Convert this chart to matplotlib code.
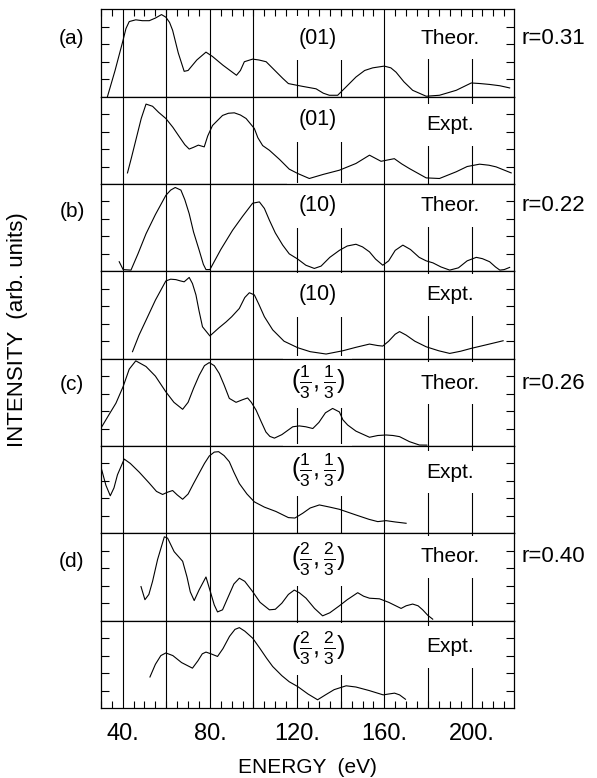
import matplotlib
matplotlib.use("Agg")
import matplotlib.pyplot as plt
from matplotlib.ticker import MultipleLocator, FixedLocator

plt.rcParams['font.family'] = ['Liberation Sans', 'DejaVu Sans']
plt.rcParams['mathtext.fontset'] = 'custom'
plt.rcParams['mathtext.rm'] = 'Liberation Sans'
plt.rcParams['mathtext.it'] = 'Liberation Sans:italic'
plt.rcParams['mathtext.bf'] = 'Liberation Sans:bold'

# (a) (01) beam
a_theor_e = [33, 36.5, 40, 41.5, 43, 46, 49, 52.2, 55, 57.8, 59.8, 61.5, 62.9, 65.5, 68.2, 70, 74, 78.2, 81.2, 86,
             92.2, 94, 95.8, 99.6, 102.5, 105.8, 109, 113.4, 116, 120, 122.5, 128.7, 132, 134.8, 138.6,
             142, 147, 151, 154.7, 160, 163, 165.4, 169, 173, 179.2, 185.3, 193, 199.9, 204, 208.3, 213, 217.5]
a_theor_i = [0, 0.3, 0.63, 0.78, 0.86, 0.88, 0.87, 0.87, 0.9, 0.94, 0.91, 0.85, 0.76, 0.5, 0.29, 0.3, 0.42, 0.51, 0.46, 0.36,
             0.245, 0.3, 0.40, 0.43, 0.42, 0.40, 0.32, 0.21, 0.15, 0.13, 0.118, 0.09, 0.04, 0.016, 0.016,
             0.1, 0.225, 0.3, 0.33, 0.35, 0.33, 0.28, 0.17, 0.073, 0.005, 0.016, 0.073, 0.157, 0.15, 0.14, 0.125, 0.10]
a_expt_e = [42.2, 44, 46, 48.5, 50.7, 53.7, 56.5, 59.8, 63, 66, 68.5, 70.5, 72.5, 74.7, 77.4, 79, 81.2, 85.8,
            88.5, 91.2, 94, 96.6, 100.4, 102, 104.2, 107.3, 112, 116.4, 120.3, 125.6, 132, 139.4, 147, 153.2,
            158.5, 164.6, 168, 171.5, 179.2, 185.3, 193, 198, 203.7, 208, 211.3, 218.2]
a_expt_i = [0.127, 0.3, 0.50, 0.75, 0.915, 0.89, 0.82, 0.75, 0.65, 0.54, 0.45, 0.40, 0.42, 0.445, 0.425, 0.55,
            0.67, 0.785, 0.81, 0.815, 0.79, 0.75, 0.635, 0.53, 0.44, 0.386, 0.28, 0.17, 0.12, 0.063, 0.11,
            0.158, 0.235, 0.33, 0.26, 0.29, 0.23, 0.177, 0.07, 0.063, 0.14, 0.2, 0.227, 0.215, 0.196, 0.127]

# (b) (10) beam
b_theor_e = [38.4, 40.2, 43.8, 47, 50.7, 55, 59.8, 62, 64.1, 66.7, 68.5, 70.5, 72.5, 75.1, 77, 78.2, 80, 85,
             90.4, 95, 99.6, 102.7, 105, 107.3, 110, 113.4, 116.4, 120.3, 124, 127.9, 131, 135, 139.4, 143,
             147, 150, 153.2, 156, 159.3, 162, 165, 168.5, 172, 176, 179.2, 182.3, 186, 190, 194, 198,
             202.2, 205, 208.3, 211, 213, 215, 217.5]
b_theor_i = [0.11, 0.02, 0.014, 0.2, 0.43, 0.65, 0.87, 0.93, 0.96, 0.93, 0.82, 0.66, 0.45, 0.24, 0.08, 0.02,
             0.02, 0.25, 0.47, 0.63, 0.78, 0.795, 0.72, 0.585, 0.44, 0.30, 0.2, 0.14, 0.07, 0.033, 0.06, 0.16,
             0.24, 0.29, 0.31, 0.28, 0.223, 0.14, 0.07, 0.12, 0.24, 0.30, 0.25, 0.16, 0.12, 0.097, 0.05, 0.014,
             0.04, 0.12, 0.16, 0.145, 0.11, 0.05, 0.014, 0.02, 0.045]
b_expt_e = [44.5, 47.5, 50.7, 55, 59.8, 62, 64.4, 66.5, 68.2, 70.5, 72, 73.6, 75, 76.6, 80, 84, 87.4, 90,
            93.5, 96, 98.1, 100.4, 102.5, 105, 108.8, 114, 120.3, 126, 133.3, 140.9, 147, 153.2, 157, 159.3,
            162, 165, 167, 170, 174, 179.2, 185, 190, 195, 199.9, 207, 214.5]
b_expt_i = [0.08, 0.27, 0.44, 0.67, 0.89, 0.91, 0.905, 0.89, 0.88, 0.93, 0.86, 0.73, 0.55, 0.365, 0.26, 0.35,
            0.42, 0.48, 0.575, 0.7, 0.755, 0.73, 0.62, 0.48, 0.33, 0.2, 0.125, 0.08, 0.053, 0.09, 0.13, 0.167,
            0.15, 0.144, 0.2, 0.28, 0.31, 0.27, 0.2, 0.136, 0.09, 0.06, 0.085, 0.118, 0.16, 0.205]

# (c) (1/3,1/3) beam
c_theor_e = [30.4, 33.5, 36.9, 40.2, 43, 46, 50.7, 55, 59.8, 63.5, 67.5, 70, 72.5, 75.1, 77.5, 79.7, 82, 84.3,
             86.5, 88.9, 92, 95, 97.3, 99, 101.2, 103.5, 105.7, 107.5, 109.6, 113, 118, 121, 124, 127.2, 130,
             133, 136.3, 139.4, 141, 143.2, 147, 153.2, 157, 160.8, 164, 167, 171.5, 176.1, 179.5]
c_theor_i = [0.22, 0.35, 0.49, 0.68, 0.88, 0.975, 0.91, 0.8, 0.62, 0.5, 0.42, 0.5, 0.66, 0.81, 0.92, 0.955,
             0.92, 0.83, 0.7, 0.545, 0.50, 0.53, 0.55, 0.5, 0.41, 0.28, 0.16, 0.11, 0.09, 0.13, 0.22, 0.23,
             0.22, 0.20, 0.27, 0.38, 0.43, 0.39, 0.3, 0.24, 0.17, 0.10, 0.12, 0.126, 0.12, 0.107, 0.05, 0.011,
             0.01]
c_expt_e = [30.4, 32.3, 34.3, 36, 37.6, 40.7, 43.5, 47.6, 52, 55.5, 58.3, 60.5, 62.9, 65, 67.5, 70, 72.5,
            75.1, 77.5, 79.7, 82, 84, 86.5, 88.9, 91, 93.5, 97, 100.4, 105, 110.3, 116, 119, 122.6, 126,
            130.2, 135, 139.4, 147, 153, 157, 160.8, 165, 170]
c_expt_i = [0.725, 0.55, 0.43, 0.52, 0.67, 0.85, 0.8, 0.70, 0.58, 0.48, 0.445, 0.47, 0.49, 0.44, 0.39, 0.45,
            0.57, 0.69, 0.8, 0.885, 0.93, 0.935, 0.89, 0.82, 0.7, 0.57, 0.45, 0.36, 0.3, 0.25, 0.18, 0.175,
            0.23, 0.29, 0.325, 0.3, 0.275, 0.21, 0.16, 0.134, 0.145, 0.13, 0.115]

# (d) (2/3,2/3) beam
d_theor_e = [48.4, 50.2, 52, 53.7, 56, 59.1, 60.6, 63.6, 67.5, 69.5, 71, 72.8, 75, 78.2, 80, 82, 83.5, 85.8,
             88, 91, 93.5, 96, 99.6, 103, 107.3, 110, 113, 116, 118.7, 121, 124.1, 128, 131.7, 135, 139.4,
             143, 147.8, 150.5, 153.2, 157.8, 162, 167.7, 170, 173, 175.5, 177.6, 180, 182.2]
d_theor_i = [0.39, 0.24, 0.3, 0.45, 0.7, 0.96, 0.945, 0.79, 0.68, 0.5, 0.33, 0.23, 0.35, 0.50, 0.35, 0.18,
             0.10, 0.124, 0.25, 0.42, 0.486, 0.45, 0.333, 0.21, 0.124, 0.13, 0.2, 0.3, 0.35, 0.32, 0.257, 0.14,
             0.055, 0.09, 0.17, 0.24, 0.32, 0.28, 0.257, 0.25, 0.21, 0.14, 0.17, 0.19, 0.17, 0.124, 0.06, 0.017]
d_expt_e = [52.5, 55, 57.5, 59.8, 63, 67, 72, 74.5, 76.5, 78.2, 80.5, 83.5, 86, 89, 91.5, 93.5, 96, 99.6,
            103, 106, 108.8, 113, 116.4, 120.3, 125, 129.4, 133, 137, 142.5, 147, 153, 159.5, 162, 164.7,
            167, 169.7]
d_expt_i = [0.355, 0.5, 0.6, 0.63, 0.6, 0.52, 0.456, 0.54, 0.62, 0.64, 0.62, 0.59, 0.68, 0.82, 0.9, 0.92, 0.88,
            0.80, 0.68, 0.57, 0.475, 0.37, 0.3, 0.245, 0.16, 0.094, 0.15, 0.21, 0.254, 0.24, 0.2, 0.15, 0.16,
            0.17, 0.15, 0.10]

beams = ["(01)", "(01)", "(10)", "(10)",
         r"$(\frac{1}{3},\frac{1}{3})$", r"$(\frac{1}{3},\frac{1}{3})$",
         r"$(\frac{2}{3},\frac{2}{3})$", r"$(\frac{2}{3},\frac{2}{3})$"]
kinds = ["Theor.", "Expt."] * 4
panel_tags = ["(a)", "(b)", "(c)", "(d)"]
r_factors = ["r=0.31", "r=0.22", "r=0.26", "r=0.40"]

curves = [(a_theor_e, a_theor_i), (a_expt_e, a_expt_i),
          (b_theor_e, b_theor_i), (b_expt_e, b_expt_i),
          (c_theor_e, c_theor_i), (c_expt_e, c_expt_i),
          (d_theor_e, d_theor_i), (d_expt_e, d_expt_i)]

# label heights (axes fraction)
beam_y = [0.67, 0.74, 0.75, 0.73, 0.73, 0.725, 0.70, 0.68]
kind_y = [0.67, 0.68, 0.75, 0.73, 0.72, 0.70, 0.73, 0.70]
tag_y = [0.67, 0.69, 0.70, 0.68]

fig, axes = plt.subplots(8, 1, sharex=True, figsize=(5.97, 7.78), dpi=100)
fig.subplots_adjust(left=0.169, right=0.861, top=0.988, bottom=0.090, hspace=0)

fs = 15
for i, ax in enumerate(axes):
    e, y = curves[i]
    ax.plot(e, y, color='k', lw=0.8, zorder=4)
    for g in range(40, 201, 20):
        ax.axvline(g, color='k', lw=0.8, zorder=1)
    ax.set_xlim(30, 219.5)
    ax.set_ylim(0, 1)
    ax.yaxis.set_major_locator(FixedLocator([0.2, 0.4, 0.6, 0.8]))
    ax.tick_params(axis='y', direction='in', left=True, right=True, length=6, width=0.8,
                   labelleft=False)
    ax.xaxis.set_minor_locator(MultipleLocator(5))
    ax.tick_params(axis='x', which='both', bottom=False, top=False)
    for s in ax.spines.values():
        s.set_linewidth(0.9)
    if i < 4:
        bfs, bpad = 15.5, 0.55
    else:
        bfs, bpad = 18, 0.3
    t1 = ax.text(129.5, beam_y[i], beams[i], transform=ax.get_xaxis_transform(), ha='center',
                 va='center', fontsize=bfs, zorder=1.5,
                 bbox=dict(boxstyle='square,pad=%s' % bpad, facecolor='white', edgecolor='none'))
    t2 = ax.text(190, kind_y[i], kinds[i], transform=ax.get_xaxis_transform(), ha='center',
                 va='center', fontsize=fs, zorder=1.5,
                 bbox=dict(boxstyle='square,pad=0.55', facecolor='white', edgecolor='none'))
    for t in (t1, t2):
        t.set_clip_path(ax.patch)
    if i % 2 == 0:
        k = i // 2
        ax.text(-0.07, tag_y[k], panel_tags[k], transform=ax.transAxes, ha='center', va='center',
                fontsize=fs)
        ax.text(1.017, kind_y[i], r_factors[k], transform=ax.transAxes, ha='left', va='center',
                fontsize=16)

axes[0].tick_params(axis='x', which='minor', top=True, direction='in', length=5, width=0.8)
bot = axes[-1]
bot.xaxis.set_major_locator(FixedLocator([40, 80, 120, 160, 200]))
bot.set_xticklabels(["40.", "80.", "120.", "160.", "200."])
bot.tick_params(axis='x', which='major', bottom=True, length=0, pad=11, labelsize=17)
bot.tick_params(axis='x', which='minor', bottom=True, direction='in', length=5, width=0.8)

fig.text(0.515, 0.014, "ENERGY  (eV)", ha='center', va='center', fontsize=fs)
fig.text(0.03, 0.576, "INTENSITY  (arb. units)", ha='center', va='center', rotation=90, fontsize=16)

fig.savefig("out.png", dpi=100)
